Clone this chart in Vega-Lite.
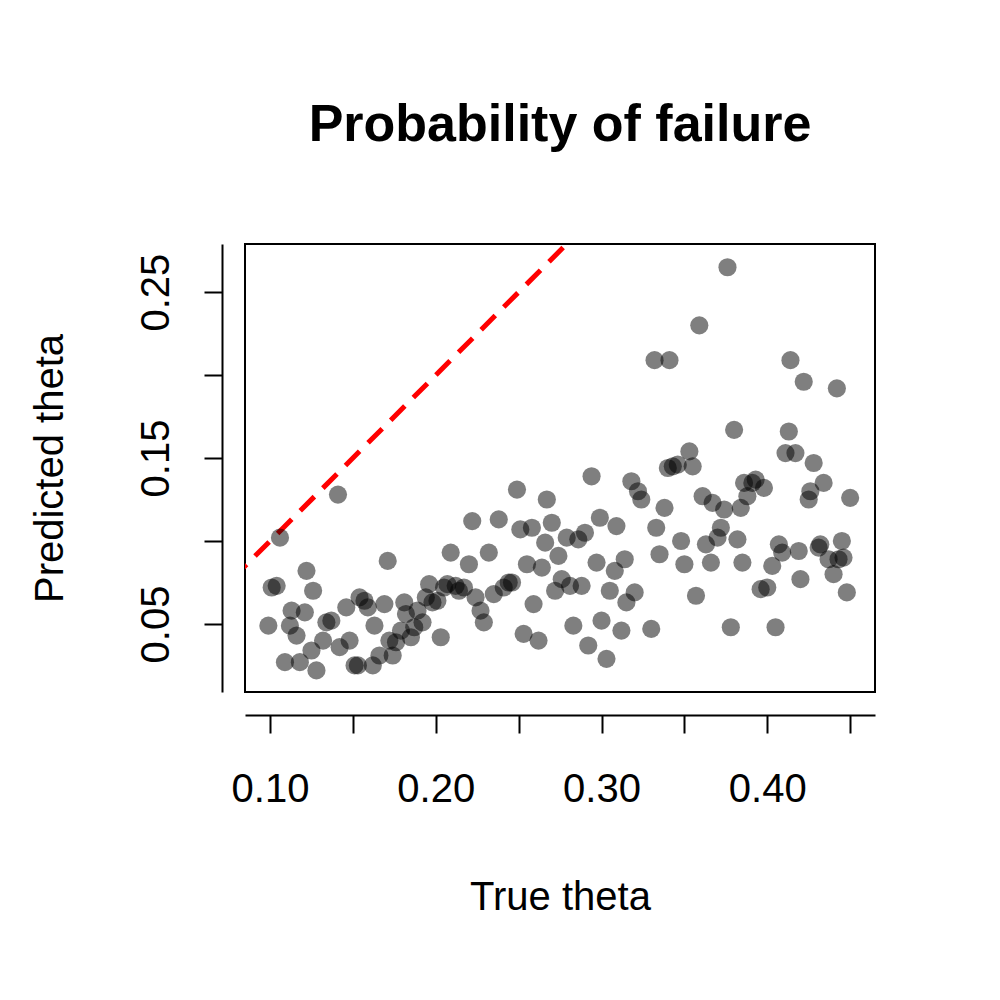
{
  "$schema": "https://vega.github.io/schema/vega-lite/v6.json",
  "autosize": "none",
  "width": 630, "height": 448,
  "padding": {"left": 245, "top": 244, "right": 125, "bottom": 308},
  "background": "white",
  "config": {
    "font": "Liberation Sans",
    "view": {"stroke": "black", "strokeWidth": 2},
    "axis": {"grid": false, "domainColor": "black", "domainWidth": 2, "tickColor": "black", "tickWidth": 2, "tickSize": 18, "labelFontSize": 40, "titleFontSize": 40, "labelColor": "black", "titleColor": "black", "titleFontWeight": "normal", "offset": 23, "labelFont": "Liberation Sans", "titleFont": "Liberation Sans"}
  },
  "title": {"text": "Probability of failure", "fontSize": 52, "fontWeight": "bold", "offset": 92, "color": "black", "font": "Liberation Sans"},
  "layer": [
    {
      "data": {"values": [{"t": 0.05}, {"t": 0.35}]},
      "mark": {"type": "line", "color": "red", "strokeWidth": 5, "strokeDash": [20, 12], "clip": true},
      "encoding": {
        "x": {"field": "t", "type": "quantitative"},
        "y": {"field": "t", "type": "quantitative"}
      }
    },
    {
      "data": {"values": [
        {"x":0.106,"y":0.102},{"x":0.101,"y":0.072},{"x":0.104,"y":0.073},{"x":0.099,"y":0.049},{"x":0.109,"y":0.027},
        {"x":0.113,"y":0.058},{"x":0.112,"y":0.049},{"x":0.116,"y":0.043},{"x":0.118,"y":0.027},{"x":0.122,"y":0.082},
        {"x":0.121,"y":0.057},{"x":0.126,"y":0.070},{"x":0.125,"y":0.034},{"x":0.128,"y":0.022},{"x":0.132,"y":0.040},
        {"x":0.134,"y":0.051},{"x":0.137,"y":0.052},{"x":0.141,"y":0.128},{"x":0.142,"y":0.036},{"x":0.146,"y":0.060},
        {"x":0.148,"y":0.040},{"x":0.151,"y":0.025},{"x":0.153,"y":0.025},{"x":0.154,"y":0.066},{"x":0.157,"y":0.064},
        {"x":0.159,"y":0.060},{"x":0.162,"y":0.025},{"x":0.163,"y":0.049},{"x":0.166,"y":0.031},{"x":0.169,"y":0.062},
        {"x":0.171,"y":0.088},{"x":0.172,"y":0.040},{"x":0.174,"y":0.031},{"x":0.176,"y":0.039},{"x":0.179,"y":0.046},
        {"x":0.181,"y":0.063},{"x":0.182,"y":0.056},{"x":0.185,"y":0.042},{"x":0.187,"y":0.048},{"x":0.189,"y":0.058},
        {"x":0.192,"y":0.051},{"x":0.194,"y":0.066},{"x":0.196,"y":0.074},{"x":0.198,"y":0.063},{"x":0.201,"y":0.064},
        {"x":0.203,"y":0.042},{"x":0.205,"y":0.072},{"x":0.207,"y":0.074},{"x":0.209,"y":0.093},{"x":0.212,"y":0.073},
        {"x":0.214,"y":0.070},{"x":0.217,"y":0.072},{"x":0.220,"y":0.086},{"x":0.222,"y":0.112},{"x":0.224,"y":0.066},
        {"x":0.227,"y":0.058},{"x":0.229,"y":0.051},{"x":0.232,"y":0.093},{"x":0.235,"y":0.068},{"x":0.238,"y":0.113},
        {"x":0.241,"y":0.072},{"x":0.244,"y":0.075},{"x":0.246,"y":0.075},{"x":0.249,"y":0.131},{"x":0.251,"y":0.107},
        {"x":0.253,"y":0.044},{"x":0.255,"y":0.086},{"x":0.258,"y":0.108},{"x":0.259,"y":0.062},{"x":0.262,"y":0.040},
        {"x":0.264,"y":0.084},{"x":0.266,"y":0.099},{"x":0.267,"y":0.125},{"x":0.270,"y":0.111},{"x":0.272,"y":0.070},
        {"x":0.274,"y":0.091},{"x":0.276,"y":0.077},{"x":0.279,"y":0.102},{"x":0.281,"y":0.073},{"x":0.283,"y":0.049},
        {"x":0.286,"y":0.101},{"x":0.288,"y":0.073},{"x":0.290,"y":0.105},{"x":0.292,"y":0.037},{"x":0.294,"y":0.139},
        {"x":0.297,"y":0.087},{"x":0.299,"y":0.114},{"x":0.300,"y":0.052},{"x":0.303,"y":0.029},{"x":0.305,"y":0.070},
        {"x":0.308,"y":0.082},{"x":0.309,"y":0.109},{"x":0.312,"y":0.046},{"x":0.314,"y":0.089},{"x":0.315,"y":0.063},
        {"x":0.318,"y":0.136},{"x":0.320,"y":0.069},{"x":0.322,"y":0.130},{"x":0.324,"y":0.125},{"x":0.330,"y":0.047},
        {"x":0.332,"y":0.209},{"x":0.333,"y":0.108},{"x":0.335,"y":0.092},{"x":0.338,"y":0.120},{"x":0.340,"y":0.144},
        {"x":0.341,"y":0.209},{"x":0.343,"y":0.145},{"x":0.346,"y":0.146},{"x":0.348,"y":0.100},{"x":0.350,"y":0.086},
        {"x":0.353,"y":0.154},{"x":0.355,"y":0.145},{"x":0.357,"y":0.067},{"x":0.359,"y":0.230},{"x":0.361,"y":0.127},
        {"x":0.363,"y":0.098},{"x":0.366,"y":0.087},{"x":0.367,"y":0.123},{"x":0.370,"y":0.102},{"x":0.372,"y":0.108},
        {"x":0.374,"y":0.119},{"x":0.376,"y":0.265},{"x":0.378,"y":0.048},{"x":0.380,"y":0.167},{"x":0.382,"y":0.101},
        {"x":0.384,"y":0.120},{"x":0.385,"y":0.087},{"x":0.386,"y":0.135},{"x":0.388,"y":0.127},{"x":0.391,"y":0.135},
        {"x":0.393,"y":0.137},{"x":0.396,"y":0.071},{"x":0.398,"y":0.132},{"x":0.400,"y":0.072},{"x":0.403,"y":0.085},
        {"x":0.405,"y":0.048},{"x":0.407,"y":0.098},{"x":0.409,"y":0.093},{"x":0.411,"y":0.153},{"x":0.413,"y":0.166},
        {"x":0.414,"y":0.209},{"x":0.417,"y":0.153},{"x":0.419,"y":0.094},{"x":0.420,"y":0.077},{"x":0.422,"y":0.196},
        {"x":0.425,"y":0.125},{"x":0.426,"y":0.130},{"x":0.428,"y":0.147},{"x":0.431,"y":0.096},{"x":0.432,"y":0.098},
        {"x":0.434,"y":0.135},{"x":0.437,"y":0.089},{"x":0.440,"y":0.080},{"x":0.442,"y":0.192},{"x":0.443,"y":0.089},
        {"x":0.445,"y":0.100},{"x":0.446,"y":0.090},{"x":0.448,"y":0.069},{"x":0.450,"y":0.126}
      ]},
      "mark": {"type": "circle", "size": 330, "color": "black", "opacity": 0.5},
      "encoding": {
        "x": {
          "field": "x", "type": "quantitative",
          "scale": {"domain": [0.0849, 0.465], "nice": false, "zero": false},
          "axis": {"values": [0.10, 0.15, 0.20, 0.25, 0.30, 0.35, 0.40, 0.45], "labelExpr": "indexof(['0.10','0.20','0.30','0.40'], format(datum.value, '.2f')) >= 0 ? format(datum.value, '.2f') : ''", "labelPadding": 36, "titlePadding": 68},
          "title": "True theta"
        },
        "y": {
          "field": "y", "type": "quantitative",
          "scale": {"domain": [0.009, 0.279], "nice": false, "zero": false},
          "axis": {"values": [0.05, 0.10, 0.15, 0.20, 0.25], "labelExpr": "indexof(['0.05','0.15','0.25'], format(datum.value, '.2f')) >= 0 ? format(datum.value, '.2f') : ''", "labelAngle": -90, "labelAlign": "center", "labelBaseline": "bottom", "labelPadding": 28, "titlePadding": 66},
          "title": "Predicted theta"
        }
      }
    }
  ]
}
